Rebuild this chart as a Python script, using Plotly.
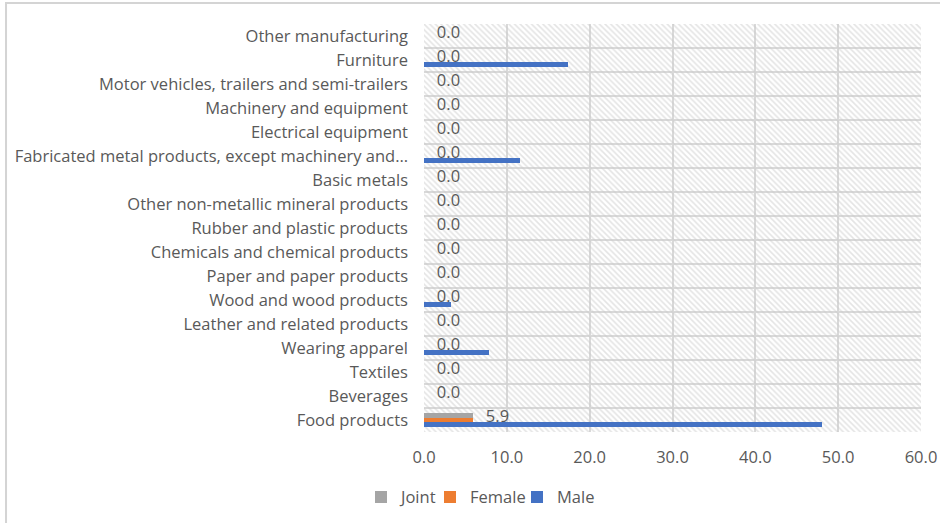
import plotly.graph_objects as go

# Manufacturing sub-sectors, listed bottom to top as they appear on the axis
categories = [
    "Food products",
    "Beverages",
    "Textiles",
    "Wearing apparel",
    "Leather and related products",
    "Wood and wood products",
    "Paper and paper products",
    "Chemicals and chemical products",
    "Rubber and plastic products",
    "Other non-metallic mineral products",
    "Basic metals",
    "Fabricated metal products, except machinery and\u2026",
    "Electrical equipment",
    "Machinery and equipment",
    "Motor vehicles, trailers and semi-trailers",
    "Furniture",
    "Other manufacturing",
]

male = [48.1, 0, 0, 7.8, 0, 3.3, 0, 0, 0, 0, 0, 11.6, 0, 0, 0, 17.4, 0]
female = [5.9, 0, 0, 0, 0, 0, 0, 0, 0, 0, 0, 0, 0, 0, 0, 0, 0]
joint = [5.9, 0, 0, 0, 0, 0, 0, 0, 0, 0, 0, 0, 0, 0, 0, 0, 0]

x_max = 60

TEXT = "#595959"
GRID = "#d9d9d9"
FONT = "Open Sans, Liberation Sans, sans-serif"
FS = 16.5

fig = go.Figure()

# Hatched plot-area background, one full-height band per category
fig.add_trace(go.Bar(
    y=categories, x=[x_max] * len(categories), orientation="h",
    width=1, offset=-0.5,
    marker=dict(color="rgba(0,0,0,0)", line=dict(width=0),
                pattern=dict(shape="\\", fgcolor="#c9c9c9",
                             bgcolor="rgba(0,0,0,0)", size=4, solidity=0.4)),
    hoverinfo="skip", showlegend=False,
))

bar_w = 0.19
fig.add_trace(go.Bar(
    name="Male", y=categories, x=male, orientation="h", legend="legend3",
    width=bar_w, offset=-0.285, marker=dict(color="#4472c4", line=dict(width=0)),
))
fig.add_trace(go.Bar(
    name="Female", y=categories, x=female, orientation="h", legend="legend2",
    width=bar_w, offset=-0.095, marker=dict(color="#ed7d31", line=dict(width=0)),
))
fig.add_trace(go.Bar(
    name="Joint", y=categories, x=joint, orientation="h", legend="legend",
    width=bar_w, offset=0.095, marker=dict(color="#a5a5a5", line=dict(width=0)),
    text=[f"{v:.1f}" for v in joint],
    texttemplate="\u00a0\u00a0\u00a0%{text}",
    textposition="outside", constraintext="none", cliponaxis=False,
    textfont=dict(color=TEXT, size=FS, family=FONT),
))


def legend_box(x_px):
    # place a single legend entry by its left edge, in pixels from the plot's left edge
    return dict(x=x_px / 497, xanchor="left", y=-0.16, yanchor="middle",
                orientation="h", font=dict(size=FS, color=TEXT, family=FONT),
                itemwidth=30, bgcolor="rgba(0,0,0,0)")


fig.update_layout(
    width=940, height=523,
    margin=dict(l=424, r=19, t=24, b=91, autoexpand=False),
    paper_bgcolor="white", plot_bgcolor="white",
    barmode="overlay",
    font=dict(family=FONT, color=TEXT, size=FS),
    legend=legend_box(-63),
    legend2=legend_box(6),
    legend3=legend_box(93),
    xaxis=dict(range=[0, x_max], dtick=10, tickformat=".1f",
               showgrid=True, gridcolor=GRID, gridwidth=1.5,
               zeroline=False, showline=False, ticks="",
               ticklabelstandoff=13, automargin=False,
               tickfont=dict(size=FS, color=TEXT, family=FONT),
               fixedrange=True),
    yaxis=dict(type="category", categoryorder="array", categoryarray=categories,
               range=[-0.5, len(categories) - 0.5],
               tickson="boundaries", showgrid=True, gridcolor=GRID, gridwidth=1.5,
               ticks="", ticklabelstandoff=15, showline=False, zeroline=False,
               automargin=False,
               tickfont=dict(size=FS, color=TEXT, family=FONT),
               fixedrange=True),
    shapes=[dict(type="rect", xref="paper", yref="paper",
                 x0=-0.841, x1=1.2, y0=-0.5, y1=1.0515,
                 line=dict(color="#d4d4d4", width=2), layer="below")],
    bargap=0,
)

fig.write_html("out.html")
